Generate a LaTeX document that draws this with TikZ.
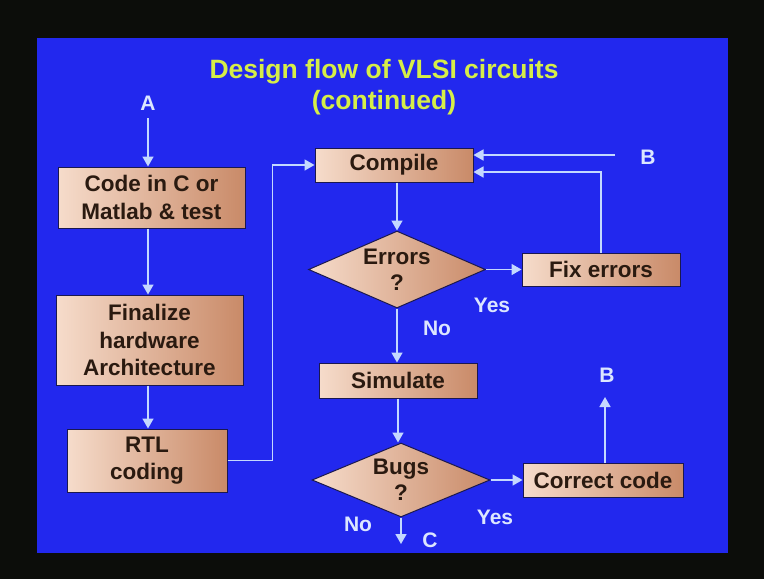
\documentclass[tikz,border=0pt]{standalone}
\usepackage{fontspec}
\setmainfont{Liberation Sans}
\usetikzlibrary{shapes.geometric,arrows.meta}

\definecolor{framedark}{HTML}{0C0D0A}
\definecolor{slideblue}{HTML}{2228EE}
\definecolor{titlecol}{HTML}{D6EE48}
\definecolor{wirecol}{HTML}{C4D8FF}
\definecolor{labelcol}{HTML}{DCE6FF}
\definecolor{boxlight}{HTML}{F6DCCB}
\definecolor{boxdark}{HTML}{C98A68}
\definecolor{boxedge}{HTML}{1A1850}
\definecolor{boxtext}{HTML}{2A1A10}

\tikzset{
  stepbox/.style={rectangle, draw=boxedge, line width=1pt,
    left color=boxlight, right color=boxdark,
    text=boxtext, align=center, inner sep=0pt,
    font=\fontsize{22.5}{27.5}\selectfont\bfseries},
  decision/.style={diamond, aspect=2.3, draw=boxedge, line width=1pt,
    left color=boxlight, right color=boxdark,
    text=boxtext, align=center, inner sep=-9pt,
    font=\fontsize{22.5}{26}\selectfont\bfseries},
  tag/.style={text=labelcol, inner sep=0pt,
    font=\fontsize{21}{24}\selectfont\bfseries},
  wire/.style={draw=wirecol, line width=1.6pt},
  flow/.style={wire, -{Triangle[width=11pt,length=10pt]}},
}

\begin{document}
\begin{tikzpicture}[x=1pt,y=-1pt]
  % slide background
  \fill[framedark] (0,0) rectangle (764,579);
  \fill[slideblue] (37,38) rectangle (728,553);
  \useasboundingbox (0,0) rectangle (764,579);

  % heading
  \node[text=titlecol, align=center, font=\fontsize{26.5}{31}\selectfont\bfseries]
    (title) at (384,87.5) {Design flow of VLSI circuits\\(continued)};

  % left column
  \node[tag] (A) at (148,103) {A};
  \node[stepbox, minimum width=187pt, minimum height=61pt]
    (code) at (151.5,197.5) {Code in C or\\Matlab \& test};
  \node[stepbox, minimum width=187pt, minimum height=90pt]
    (arch) at (149.5,340) {Finalize\\hardware\\Architecture};
  \node[stepbox, minimum width=160pt, minimum height=63pt]
    (rtl) at (147,460.5) {RTL\\coding};

  % right column
  \node[stepbox, minimum width=158pt, minimum height=34pt]
    (compile) at (394,165) {Compile};
  \node[decision, minimum width=177pt, minimum height=77pt]
    (errors) at (397,269.5) {Errors\\?};
  \node[stepbox, minimum width=158pt, minimum height=33pt]
    (fix) at (601,269.5) {Fix errors};
  \node[stepbox, minimum width=158pt, minimum height=35pt]
    (simulate) at (398,380.5) {Simulate};
  \node[decision, minimum width=178pt, minimum height=74pt]
    (bugs) at (401,480) {Bugs\\?};
  \node[stepbox, minimum width=160pt, minimum height=34pt]
    (correct) at (603,480) {Correct code};

  % connector ends and labels
  \node[tag] (Btop) at (648,157) {B};
  \coordinate (Bin) at (615,155);
  \node[tag] (Bout) at (607,375) {B};
  \coordinate (Bend) at (605,397);
  \node[tag] (C) at (430,540) {C};
  \coordinate (Cend) at (401,544);
  \node[tag] (yes1) at (492,305) {Yes};
  \node[tag] (no1) at (437,328) {No};
  \node[tag] (yes2) at (495,517) {Yes};
  \node[tag] (no2) at (358,524) {No};

  % left column flow
  \draw[flow] (A.south) ++(0,8) -- (A |- code.north);
  \draw[flow] (A |- code.south) -- (A |- arch.north);
  \draw[flow] (A |- arch.south) -- (A |- rtl.north);
  \draw[flow] (rtl.east) -- ++(45,0) |- (compile.west);

  % compile / error loop
  \draw[flow] (errors |- compile.south) -- (errors.north);
  \draw[flow] (errors.east) -- (fix.west);
  \draw[flow] (fix.north) |- ([yshift=-7pt]compile.east);
  \draw[flow] (Bin) -- (Bin -| compile.east);

  % simulate / bug loop
  \draw[flow] (errors.south) -- (errors.south |- simulate.north);
  \draw[flow] (simulate.south) -- (simulate.south |- bugs.north);
  \draw[flow] (bugs.east) -- (correct.west);
  \draw[flow] (Bend |- correct.north) -- (Bend);
  \draw[flow] (bugs.south) -- (Cend);
\end{tikzpicture}
\end{document}
